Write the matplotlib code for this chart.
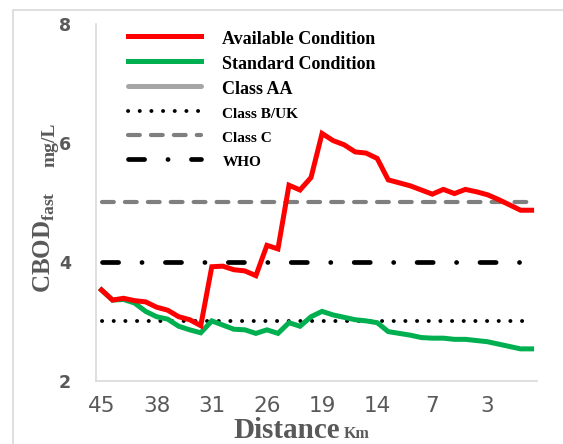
import matplotlib.pyplot as plt
from matplotlib.patches import Rectangle

plt.rcParams['lines.scale_dashes'] = False
plt.rcParams['mathtext.fontset'] = 'custom'
plt.rcParams['mathtext.rm'] = 'Liberation Serif:bold'
plt.rcParams['mathtext.bf'] = 'Liberation Serif:bold'

# CBOD fast along the river, 40 stations (upstream -> downstream)
available = [3.53, 3.36, 3.39, 3.35, 3.33, 3.24, 3.19, 3.08, 3.03, 2.93,
             3.92, 3.93, 3.87, 3.85, 3.77, 4.28, 4.22, 5.29, 5.21, 5.42,
             6.16, 6.04, 5.97, 5.85, 5.83, 5.74, 5.38, 5.33, 5.28, 5.21,
             5.14, 5.22, 5.15, 5.22, 5.18, 5.13, 5.05, 4.96, 4.87, 4.87]
standard = [3.53, 3.36, 3.37, 3.31, 3.17, 3.08, 3.04, 2.92, 2.86, 2.81,
            3.01, 2.94, 2.87, 2.86, 2.80, 2.86, 2.80, 2.98, 2.92, 3.08,
            3.17, 3.11, 3.07, 3.03, 3.01, 2.98, 2.83, 2.80, 2.77, 2.73,
            2.72, 2.72, 2.70, 2.70, 2.68, 2.66, 2.62, 2.58, 2.54, 2.54]

# standard limits (mg/L)
class_aa = 1.0
class_b_uk = 3.0
class_c = 5.0
who = 4.0

tick_labels = ['45', '38', '31', '26', '19', '14', '7', '3']
tick_step = 5

n = len(available)
x = list(range(n))
grey = '#595959'

fig = plt.figure(figsize=(5.63, 4.44), dpi=100)
ax = fig.add_axes([0.1705, 0.1419, 0.7835, 0.8041])

# chart frame
fig.patches.append(Rectangle((13 / 563, -0.05), 1.2, 1 - 10 / 444 + 0.05,
                             transform=fig.transFigure, fill=False,
                             edgecolor='#d9d9d9', linewidth=1.2))

ax.plot(x, available, color='#ff0000', lw=3.6, solid_joinstyle='miter',
        label='Available Condition', zorder=5)
ax.plot(x, standard, color='#00b050', lw=3.6, solid_joinstyle='miter',
        label='Standard Condition', zorder=4)
ax.plot(x, [class_aa] * n, color='#a6a6a6', lw=3.6, solid_capstyle='round',
        label='Class AA')
ax.plot(x, [class_b_uk] * n, color='black', lw=2.8, dash_capstyle='round',
        dashes=(0.1, 8.3), label='Class B/UK')
ax.plot(x, [class_c] * n, color='#7f7f7f', lw=3.0, dash_capstyle='round',
        dashes=(8.5, 8.0), label='Class C')
ax.plot(x, [who] * n, color='black', lw=3.4, dash_capstyle='round',
        dashes=(11.6, 16.8, 0.1, 16.8), label='WHO')

ax.set_xlim(-0.5, n - 0.5)
ax.set_ylim(2, 8)
ax.set_yticks([2, 4, 6, 8])
ax.set_xticks(range(0, tick_step * len(tick_labels), tick_step))
ax.set_xticklabels(tick_labels)
ax.tick_params(length=0)
ax.tick_params(axis='x', labelsize=15.5, labelcolor=grey, pad=11)
ax.tick_params(axis='y', labelsize=12.5, labelcolor=grey, pad=18)
for lab in ax.get_yticklabels():
    lab.set_fontweight('bold')

for s in ['top', 'right']:
    ax.spines[s].set_visible(False)
for s in ['left', 'bottom']:
    ax.spines[s].set_color('#d9d9d9')
    ax.spines[s].set_linewidth(1.2)

leg = ax.legend(loc='upper left', bbox_to_anchor=(0.045, 1.022), frameon=False,
                prop={'family': 'Liberation Serif', 'weight': 'bold', 'size': 13},
                handlelength=4.0, handleheight=1.2, handletextpad=1.2,
                labelspacing=0.3, borderpad=0.2)
for i, t in enumerate(leg.get_texts()):
    t.set_color('black')
    if i >= 3:
        t.set_fontsize(11)

# axis titles
fig.text(0.079, 0.455, r'$\mathrm{CBOD}_{\mathrm{fast}}$', rotation=90,
         ha='center', va='center', fontsize=18, color=grey)
fig.text(0.089, 0.673, 'mg/L', rotation=90, ha='center', va='center',
         fontsize=14, color=grey, family='Liberation Serif', weight='bold')
fig.text(0.604, 0.014, 'Distance', ha='right', va='baseline', fontsize=21,
         color=grey, family='Liberation Serif', weight='bold')
fig.text(0.611, 0.014, 'Km', ha='left', va='baseline', fontsize=11.5,
         color=grey, family='Liberation Serif', weight='bold')

fig.savefig('out.png', dpi=100)
